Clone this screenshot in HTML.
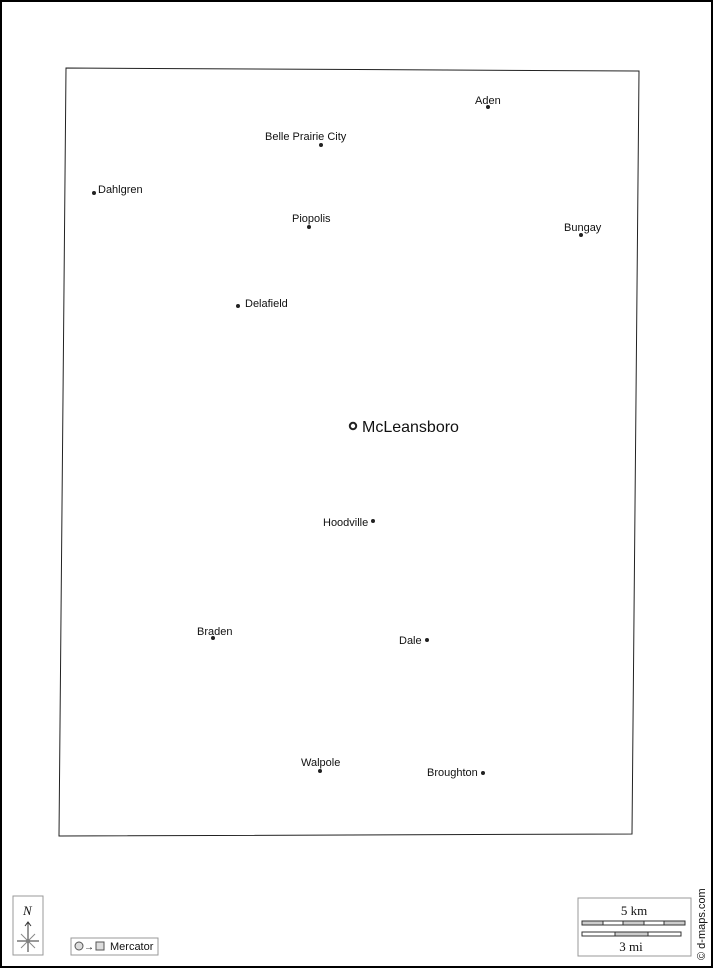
<!DOCTYPE html>
<html><head><meta charset="utf-8"><style>
html,body{margin:0;padding:0;background:#fff}
svg{display:block}
text{font-family:"Liberation Sans",sans-serif;font-size:11px;fill:#111}
</style></head><body>
<svg width="713" height="968" viewBox="0 0 713 968">
<rect x="1" y="1" width="711" height="966" fill="#fff" stroke="#000" stroke-width="2"/>
<polygon points="66,68 639,71 632,834 59,836" fill="none" stroke="#222" stroke-width="1"/>
<g fill="#222">
<circle cx="488" cy="107" r="2"/><text x="475" y="104">Aden</text>
<circle cx="321" cy="145" r="2"/><text x="265" y="140">Belle Prairie City</text>
<circle cx="94" cy="193" r="2"/><text x="98" y="193">Dahlgren</text>
<circle cx="309" cy="227" r="2"/><text x="292" y="222">Piopolis</text>
<circle cx="581" cy="235" r="2"/><text x="564" y="231">Bungay</text>
<circle cx="238" cy="306" r="2"/><text x="245" y="307">Delafield</text>
<circle cx="373" cy="521" r="2"/><text x="323" y="526">Hoodville</text>
<circle cx="213" cy="638" r="2"/><text x="197" y="635">Braden</text>
<circle cx="427" cy="640" r="2"/><text x="399" y="644">Dale</text>
<circle cx="320" cy="771" r="2"/><text x="301" y="766">Walpole</text>
<circle cx="483" cy="773" r="2"/><text x="427" y="776">Broughton</text>
</g>
<circle cx="353" cy="426" r="3.2" fill="#fff" stroke="#222" stroke-width="2"/>
<text x="362" y="432" style="font-size:16px">McLeansboro</text>
<!-- north arrow -->
<rect x="13" y="896" width="30" height="59" fill="#fff" stroke="#999"/>
<text x="23" y="915" style="font-family:'Liberation Serif',serif;font-style:italic;font-size:13px">N</text>
<g stroke="#333" stroke-width="1" fill="none">
<line x1="28" y1="922" x2="28" y2="952"/><polyline points="25,926 28,922 31,926"/>
<line x1="17" y1="941" x2="39" y2="941"/>
<line x1="21" y1="934" x2="35" y2="948" stroke="#888"/><line x1="35" y1="934" x2="21" y2="948" stroke="#888"/>
</g>
<rect x="71" y="938" width="87" height="17" fill="#fff" stroke="#999"/>
<circle cx="79" cy="946" r="4" fill="#ddd" stroke="#555"/>
<text x="84" y="950" style="font-size:10px">→</text>
<rect x="96" y="942" width="8" height="8" fill="#ddd" stroke="#555"/>
<text x="110" y="950" style="font-size:11px">Mercator</text>
<!-- scale -->
<rect x="578" y="898" width="113" height="58" fill="#fff" stroke="#999"/>
<text x="634" y="915" text-anchor="middle" style="font-family:'Liberation Serif',serif;font-size:13px">5 km</text>
<g stroke="#333" stroke-width="1">
<rect x="582" y="921" width="103" height="4" fill="#fff"/>
<rect x="582" y="921" width="21" height="4" fill="#ccc"/>
<rect x="623" y="921" width="21" height="4" fill="#ccc"/>
<rect x="664" y="921" width="21" height="4" fill="#ccc"/>
<rect x="582" y="932" width="99" height="4" fill="#fff"/>
<rect x="615" y="932" width="33" height="4" fill="#ccc"/>
</g>
<text x="631" y="951" text-anchor="middle" style="font-family:'Liberation Serif',serif;font-size:13px">3 mi</text>
<text transform="translate(705,960) rotate(-90)" style="font-size:11px">© d-maps.com</text>
</svg>
</body></html>
